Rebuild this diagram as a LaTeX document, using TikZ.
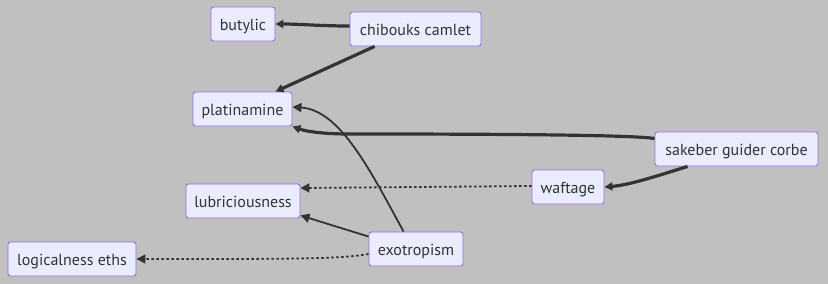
\documentclass[tikz,border=0pt]{standalone}
\usepackage{fontspec}
\setmainfont{PT Sans}
\usetikzlibrary{arrows.meta}
\definecolor{bg}{HTML}{C0C0C0}
\definecolor{nodefill}{HTML}{ECECFF}
\definecolor{nodeline}{HTML}{9370DB}
\definecolor{edge}{HTML}{333333}
\tikzset{
  box/.style={draw=nodeline, fill=nodefill, rounded corners=2.5pt, line width=0.9pt,
    minimum height=34pt, inner xsep=8pt, text height=12pt, text depth=0pt,
    text=edge, font=\fontsize{16}{19}\selectfont, anchor=center},
  link/.style={draw=edge, line width=1.8pt, -{Triangle[length=9pt,width=9pt]}},
  heavy/.style={draw=edge, line width=3.2pt, -{Triangle[length=8pt,width=8pt]}},
  dots/.style={draw=edge, line width=1.8pt, dash pattern=on 2.5pt off 2.5pt, -{Triangle[length=9pt,width=9pt]}},
}
\begin{document}
\begin{tikzpicture}[x=1pt,y=-1pt]
  \fill[bg] (0,0) rectangle (828,284);
  \useasboundingbox (0,0) rectangle (828,284);

  \node[box, minimum width=64pt]  (butylic)  at (243,24)    {butylic};
  \node[box, minimum width=131pt] (chibouks) at (415.5,29)  {chibouks camlet};
  \node[box, minimum width=99pt]  (platin)   at (242.5,109) {platinamine};
  \node[box, minimum width=163pt] (sakeber)  at (736.5,149) {sakeber guider corbe};
  \node[box, minimum width=72pt]  (waftage)  at (568,187)   {waftage};
  \node[box, minimum width=114pt] (lubric)   at (243,201)   {lubriciousness};
  \node[box, minimum width=94pt]  (exotrop)  at (416,249)   {exotropism};
  \node[box, minimum width=128pt] (logical)  at (72,259)    {logicalness eths};

  % heavy links
  \draw[heavy] ([yshift=3pt]chibouks.west) .. controls (320,26) and (300,24) .. (butylic.east);
  \draw[heavy] ([xshift=25pt]chibouks.south west) -- ([xshift=-17pt]platin.north east);
  \draw[heavy] ([yshift=-7pt]sakeber.north west) .. controls (630,134) and (420,134) .. (350,134)
        .. controls (320,134) and (305,131) .. (platin.south east);
  \draw[heavy] ([xshift=33pt]sakeber.south west) .. controls (660,175) and (630,185) .. (waftage.east);

  % thin links
  \draw[link] ([xshift=35pt]exotrop.north west) .. controls (370,170) and (340,110) .. ([yshift=2pt]platin.east);
  \draw[link] ([yshift=-5pt]exotrop.north west) -- ([yshift=3pt]lubric.south east);

  % dotted links
  \draw[dots] ([yshift=1pt]waftage.west) -- ([yshift=13pt]lubric.east);
  \draw[dots] ([yshift=-5pt]exotrop.west) .. controls (340,259) and (300,259) .. (logical.east);
\end{tikzpicture}
\end{document}
